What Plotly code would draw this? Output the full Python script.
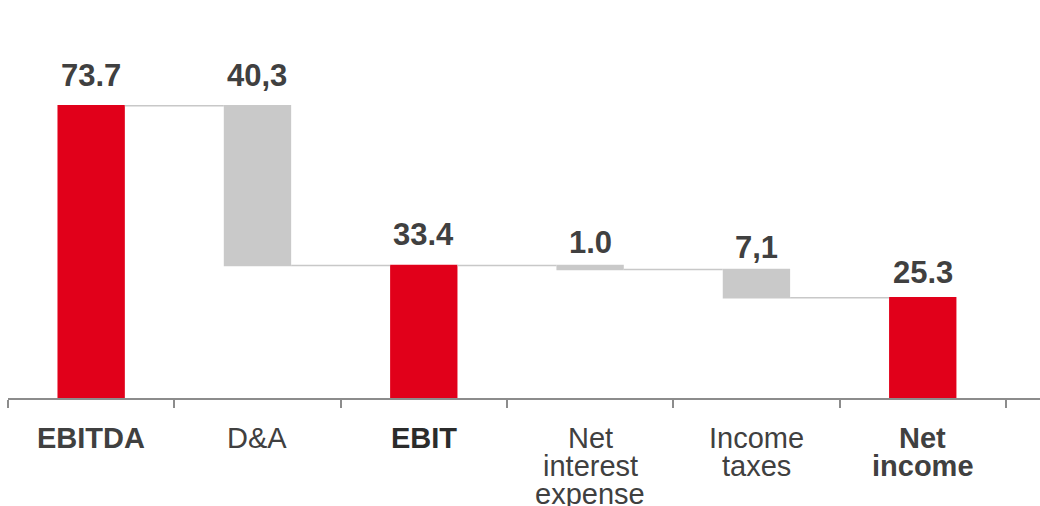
import plotly.graph_objects as go

# Income bridge, EUR m
categories = ["EBITDA", "D&A", "EBIT", "Net interest expense", "Income taxes", "Net income"]
measures = ["absolute", "relative", "absolute", "relative", "relative", "absolute"]
values = [73.7, -40.3, 33.4, -1.0, -7.1, 25.3]
value_labels = ["73.7", "40,3", "33.4", "1.0", "7,1", "25.3"]
axis_labels = [["EBITDA"], ["D&A"], ["EBIT"], ["Net", "interest", "expense"], ["Income", "taxes"], ["Net", "income"]]
bold_labels = [True, False, True, False, False, True]

RED = "#E1001A"
GREY_BAR = "#C9C9C9"
TEXT = "#404040"
FONT = "Arial, Liberation Sans, sans-serif"

# pixel gap between each value label's baseline and the top of its bar
label_gap = [19, 19, 20, 12, 11, 14]

fig = go.Figure(
    go.Waterfall(
        x=categories,
        y=values,
        measure=measures,
        totals=dict(marker=dict(color=RED)),
        decreasing=dict(marker=dict(color=GREY_BAR)),
        increasing=dict(marker=dict(color=GREY_BAR)),
        connector=dict(mode="between", line=dict(color="#C8C8C8", width=1.5)),
        textinfo="none",
        hoverinfo="skip",
    )
)

# bar tops, from the running total of the bridge
tops = []
running = 0.0
for m, v in zip(measures, values):
    start = 0.0 if m == "absolute" else running
    running = v if m == "absolute" else running + v
    tops.append(max(start, running))

annotations = []
for cat, top, lab, gap in zip(categories, tops, value_labels, label_gap):
    annotations.append(dict(
        x=cat, y=top, xref="x", yref="y", text=f"<b>{lab}</b>",
        showarrow=False, xanchor="center", yanchor="bottom", yshift=gap - 8,
        font=dict(family=FONT, size=31, color=TEXT),
    ))

line_step = 28
for cat, lines, bold in zip(categories, axis_labels, bold_labels):
    for i, ln in enumerate(lines):
        annotations.append(dict(
            x=cat, y=0, xref="x", yref="paper",
            text=f"<b>{ln}</b>" if bold else ln,
            showarrow=False, xanchor="center", yanchor="bottom",
            yshift=-58 - i * line_step,
            font=dict(family=FONT, size=29, color="#2B2B2B" if cat == "EBIT" else TEXT),
        ))

fig.update_layout(
    width=1040, height=506,
    margin=dict(l=8, r=0, t=30, b=108),
    paper_bgcolor="white", plot_bgcolor="white",
    showlegend=False,
    waterfallgap=0.595,
    annotations=annotations,
    xaxis=dict(
        type="category", range=[-0.5, 5.705],
        showline=True, linecolor="#8C8C8C", linewidth=2,
        ticks="outside", tickson="boundaries", ticklen=8, tickwidth=2, tickcolor="#8C8C8C",
        showticklabels=False, showgrid=False, zeroline=False, fixedrange=True,
    ),
    yaxis=dict(
        range=[0, 92.8], visible=False, showgrid=False, zeroline=False, fixedrange=True,
    ),
)

fig.write_html("out.html")
